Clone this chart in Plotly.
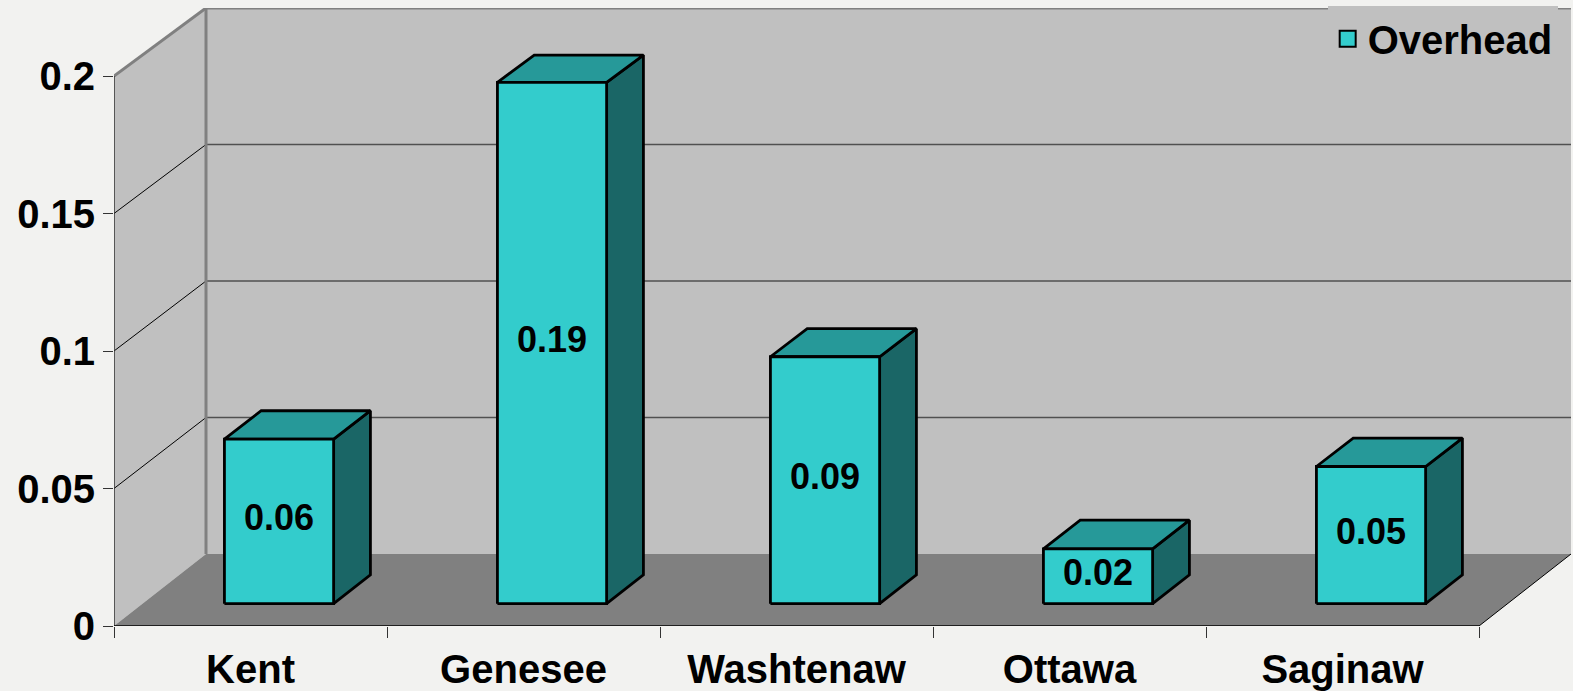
import plotly.graph_objects as go

# ---------------- data ----------------
categories = ["Kent", "Genesee", "Washtenaw", "Ottawa", "Saginaw"]
values = [0.06, 0.19, 0.09, 0.02, 0.05]
value_labels = ["0.06", "0.19", "0.09", "0.02", "0.05"]
y_ticks = [0, 0.05, 0.1, 0.15, 0.2]
y_tick_labels = ["0", "0.05", "0.1", "0.15", "0.2"]
series_name = "Overhead"

# ---------------- geometry / style ----------------
W, H = 1573, 691
ML, MR, MT, MB = 114, 2, 8, 65
PX_PER_CAT = 273.0
PX_PER_VAL = 2750.0
DEPTH_DX_PX, DEPTH_DY_PX = 92.0, 72.0
BACK_SCALE = 546.0 / 550.0
BAR_HALF = 0.2
D1, D2 = 0.31, 0.71

FONT = "Arial, Liberation Sans, sans-serif"
BG = "#F2F2F0"
WALL = "#C0C0C0"
FLOOR = "#808080"
FRONT = "#33CCCC"
TOP = "#269999"
SIDE = "#1A6666"

x_min = -0.5
x_max = x_min + (W - ML - MR) / PX_PER_CAT
y_max = (H - MT - MB) / PX_PER_VAL
n = len(categories)
y_top = max(y_ticks)


def proj(x, v, d):
    return (x + d * DEPTH_DX_PX / PX_PER_CAT,
            v * (1 - d * (1 - BACK_SCALE)) + d * DEPTH_DY_PX / PX_PER_VAL)


def poly(points):
    xs, ys = [], []
    for (x, v, d) in points:
        px, py = proj(x, v, d)
        xs.append(px)
        ys.append(py)
    xs.append(xs[0])
    ys.append(ys[0])
    return xs, ys


def seg(p, q):
    a = proj(*p)
    b = proj(*q)
    return [a[0], b[0]], [a[1], b[1]]


fig = go.Figure()


def add_fill(xs, ys, fill, line_color=None, line_width=0):
    fig.add_trace(go.Scatter(
        x=xs, y=ys, mode="lines", fill="toself", fillcolor=fill,
        line=dict(color=line_color or fill, width=line_width),
        hoverinfo="skip", showlegend=False))


def add_line(xs, ys, color, width):
    fig.add_trace(go.Scatter(
        x=xs, y=ys, mode="lines", line=dict(color=color, width=width),
        hoverinfo="skip", showlegend=False))


x_left = -0.5
x_right = n - 0.5

# side wall (left)
xs, ys = poly([(x_left, 0, 0), (x_left, y_top, 0), (x_left, y_top, 1), (x_left, 0, 1)])
add_fill(xs, ys, WALL)
# back wall
xs, ys = poly([(x_left, 0, 1), (x_right, 0, 1), (x_right, y_top, 1), (x_left, y_top, 1)])
add_fill(xs, ys, WALL)
# floor
xs, ys = poly([(x_left, 0, 0), (x_right, 0, 0), (x_right, 0, 1), (x_left, 0, 1)])
add_fill(xs, ys, FLOOR)

# gridlines on back and side walls
for t in y_ticks[1:-1]:
    xs, ys = seg((x_left, t, 1), (x_right, t, 1))
    add_line(xs, ys, "#505050", 1.3)
    xs, ys = seg((x_left, t, 0), (x_left, t, 1))
    add_line(xs, ys, "#000000", 1)

# wall edges
xs, ys = seg((x_left, y_top, 1), (x_right, y_top, 1))
add_line(xs, ys, "#808080", 3)
xs, ys = seg((x_left, y_top, 0), (x_left, y_top, 1))
add_line(xs, ys, "#808080", 3)
xs, ys = seg((x_left, 0, 1), (x_left, y_top, 1))
add_line(xs, ys, "#808080", 3)
# floor right edge
xs, ys = seg((x_right, 0, 0), (x_right, 0, 1))
add_line(xs, ys, "#000000", 1)
# front axis lines
xs, ys = seg((x_left, 0, 0), (x_left, y_top, 0))
add_line(xs, ys, "#333333", 1.5)
xs, ys = seg((x_left, 0, 0), (x_right, 0, 0))
add_line(xs, ys, "#000000", 1.5)

# bars
fx, fy, tx, ty, sx, sy = [], [], [], [], [], []
for i, v in enumerate(values):
    x0, x1 = i - BAR_HALF, i + BAR_HALF
    a, b = poly([(x0, 0, D1), (x1, 0, D1), (x1, v, D1), (x0, v, D1)])
    fx += a + [None]; fy += b + [None]
    a, b = poly([(x0, v, D1), (x1, v, D1), (x1, v, D2), (x0, v, D2)])
    tx += a + [None]; ty += b + [None]
    a, b = poly([(x1, 0, D1), (x1, 0, D2), (x1, v, D2), (x1, v, D1)])
    sx += a + [None]; sy += b + [None]
add_fill(sx, sy, SIDE, "#000000", 2.8)
add_fill(tx, ty, TOP, "#000000", 2.8)
add_fill(fx, fy, FRONT, "#000000", 2.8)

# data labels
lx, ly = [], []
for i, v in enumerate(values):
    px, py = proj(i, v / 2, D1)
    lx.append(px)
    ly.append(py)
fig.add_trace(go.Scatter(
    x=lx, y=ly, mode="text", text=value_labels,
    textfont=dict(family=FONT, size=36, color="#000000", weight="bold"),
    textposition="middle center", hoverinfo="skip", showlegend=False))

# legend entry
fig.add_trace(go.Scatter(
    x=[None], y=[None], mode="markers", name=series_name,
    marker=dict(symbol="square", size=16, color=FRONT,
                line=dict(color="#000000", width=2)),
    showlegend=True))

# invisible trace to activate the boundary tick axis
fig.add_trace(go.Scatter(x=[x_min], y=[0], xaxis="x2", mode="markers",
                         marker=dict(opacity=0), hoverinfo="skip", showlegend=False))

fig.update_layout(
    width=W, height=H, autosize=False,
    margin=dict(l=ML, r=MR, t=MT, b=MB, pad=0, autoexpand=False),
    paper_bgcolor=BG, plot_bgcolor=BG,
    font=dict(family=FONT, color="#000000"),
    xaxis=dict(range=[x_min, x_max], tickvals=list(range(n)), ticktext=categories,
               ticks="", showgrid=False, zeroline=False, showline=False,
               tickfont=dict(family=FONT, size=40, color="#000000", weight="bold"),
               ticklabelstandoff=16, fixedrange=True, automargin=False),
    xaxis2=dict(range=[x_min, x_max], overlaying="x", anchor="y", side="bottom",
                tickvals=[k - 0.5 for k in range(n + 1)], showticklabels=False,
                ticks="outside", ticklen=11, tickwidth=1.2, tickcolor="#333333",
                showgrid=False, zeroline=False, showline=False, fixedrange=True,
                automargin=False),
    yaxis=dict(range=[0, y_max], tickvals=y_ticks, ticktext=y_tick_labels,
               ticks="outside", ticklen=10, tickwidth=1.2, tickcolor="#333333",
               showgrid=False, zeroline=False, showline=False,
               tickfont=dict(family=FONT, size=40, color="#000000", weight="bold"),
               ticklabelstandoff=0, fixedrange=True, automargin=False),
    legend=dict(x=0.833, y=1.003, xanchor="left", yanchor="top",
                bgcolor=WALL, borderwidth=0,
                font=dict(family=FONT, size=40, color="#000000", weight="bold"),
                itemsizing="trace"),
    showlegend=True,
)

fig.write_html(
    "out.html",
    config={"displayModeBar": False},
    post_script="document.body.style.margin='0px';"
                "document.body.style.background='#F2F2F0';",
)
